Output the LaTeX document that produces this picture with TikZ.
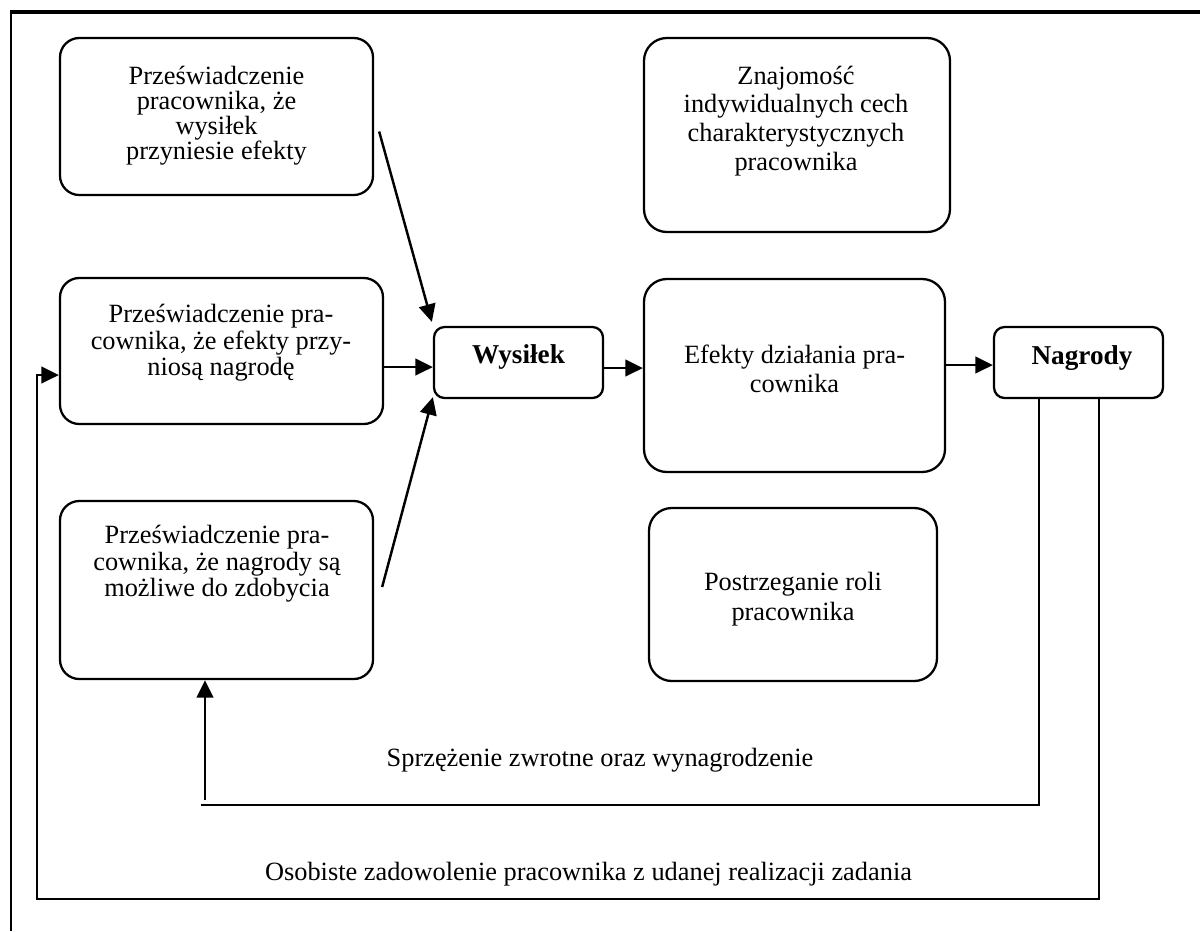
\documentclass[tikz,border=0pt]{standalone}
\usepackage{fontspec}
\setmainfont{Liberation Serif}
\usetikzlibrary{arrows.meta,fit}
\begin{document}
\begin{tikzpicture}[x=0.02cm,y=-0.02cm,
  box/.style={draw, line width=1.3pt, inner sep=0pt, rounded corners=#1},
  box/.default=11pt,
  txt/.style={align=center, inner sep=0pt, font=\fontsize{15}{#1}\selectfont},
  txt/.default=15.1pt,
  conn/.style={line width=1.4pt},
  arr/.style={conn, -{Triangle[length=10pt,width=9.5pt]}}
]
\useasboundingbox (0,0) rectangle (1200,931);

% outer frame (top and left edges only)
\draw[line width=2pt] (10,12) -- (1200,12);
\draw[line width=1.5pt] (11,12) -- (11,931);

% boxes
\node[box, fit={(60,38) (373,195)}] (a) {};
\node[box, fit={(60,278) (383,424)}] (b) {};
\node[box, fit={(60,501) (373,679)}] (c) {};
\node[box=6pt, fit={(434,327) (603,398)}] (w) {};
\node[box=13pt, fit={(644,279) (945,472)}] (e) {};
\node[box=13pt, fit={(644,38) (950,232)}] (k) {};
\node[box=13pt, fit={(649,508) (937,681)}] (p) {};
\node[box=6pt, fit={(994,327) (1163,398)}] (n) {};

% box texts
\node[txt=14.2pt] (ta) at (216.5,116) {Przeświadczenie\\pracownika, że\\wysiłek\\przyniesie efekty};
\node[txt] (tb) at (221,343) {Przeświadczenie pra-\\cownika, że efekty przy-\\niosą nagrodę};
\node[txt] (tc) at (217,564) {Przeświadczenie pra-\\cownika, że nagrody są\\możliwe do zdobycia};
\node[txt, anchor=base, font=\fontsize{15.5}{15.5}\selectfont\bfseries] (tw) at (518.5,363) {Wysiłek};
\node[txt=16.6pt] (te) at (794.5,369) {Efekty działania pra-\\cownika};
\node[txt=16.4pt] (tk) at (796,121) {Znajomość\\indywidualnych cech\\charakterystycznych\\pracownika};
\node[txt=16.8pt] (tp) at (793,599) {Postrzeganie roli\\pracownika};
\node[txt, anchor=base, font=\fontsize{15.5}{15.5}\selectfont\bfseries] (tn) at (1082,364) {Nagrody};

% feedback labels
\node[txt, anchor=base] (l1) at (600,766.7) {Sprzężenie zwrotne oraz wynagrodzenie};
\node[txt, anchor=base] (l2) at (588.5,880) {Osobiste zadowolenie pracownika z udanej realizacji zadania};

% forward connectors
\draw[arr] ([shift={(5,15)}]a.east) -- ([shift={(-1,-4)}]w.north west);
\draw[arr] (b.east |- 0,367) -- (w.west |- 0,367);
\draw[arr] ([shift={(8,-3)}]c.east) -- ([shift={(0,-2)}]w.south west);
\draw[arr] (w.east |- 0,368) -- (e.west |- 0,368);
\draw[arr] (e.east |- 0,365) -- (n.west |- 0,365);

% feedback: rewards back to belief about attainable rewards
\coordinate (r1) at (1039,805);
\coordinate (q1) at (201,805);
\coordinate (u1) at (205,800);
\draw[conn] (n.south -| r1) -- (r1) -- (q1);
\draw[arr] (u1) -- (u1 |- c.south);

% feedback: personal satisfaction back to belief about rewards
\coordinate (r2) at (1099,899);
\coordinate (q2) at (37,899);
\coordinate (t2) at (37,375);
\draw[arr] (n.south -| r2) -- (r2) -- (q2) -- (t2) -- (t2 -| b.west);
\end{tikzpicture}
\end{document}
